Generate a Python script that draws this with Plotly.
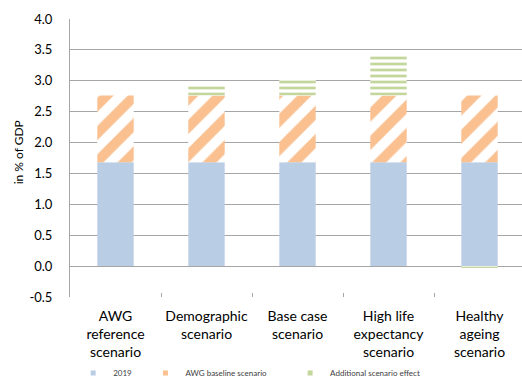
import plotly.graph_objects as go

categories = ["AWG<br>reference<br>scenario", "Demographic<br>scenario", "Base case<br>scenario",
              "High life<br>expectancy<br>scenario", "Healthy<br>ageing<br>scenario"]
base_2019 = [1.68, 1.68, 1.68, 1.68, 1.68]
awg_baseline = [1.08, 1.08, 1.08, 1.08, 1.08]
additional = [0.0, 0.16, 0.26, 0.65, -0.02]
y_ticks = [-0.5, 0.0, 0.5, 1.0, 1.5, 2.0, 2.5, 3.0, 3.5, 4.0]
series_names = ["2019", "AWG baseline scenario", "Additional scenario effect"]
series_colors = ["#B9CDE5", "#FAC090", "#C3D69B"]
y_title = "in % of GDP"

FONT = "Lato"
fig = go.Figure()
fig.add_trace(go.Bar(x=categories, y=base_2019, name=series_names[0], width=0.4,
                     marker=dict(color=series_colors[0], line=dict(width=0)), showlegend=False))
fig.add_trace(go.Bar(x=categories, y=awg_baseline, name=series_names[1], width=0.4,
                     marker=dict(color="white", line=dict(width=0),
                                 pattern=dict(shape="/", fgcolor=series_colors[1], bgcolor="white",
                                              fgopacity=1, size=20, solidity=0.5)),
                     showlegend=False))
fig.add_trace(go.Bar(x=categories, y=additional, name=series_names[2], width=0.4,
                     marker=dict(color="white", line=dict(width=0),
                                 pattern=dict(shape="-", fgcolor=series_colors[2], bgcolor="white",
                                              fgopacity=1, size=6, solidity=0.45)),
                     showlegend=False))

# legend entries (small square swatches, as in the original)
legend_ids = ["legend", "legend2", "legend3"]
for nm, col, lg in zip(series_names, series_colors, legend_ids):
    fig.add_trace(go.Scatter(x=[None], y=[None], mode="markers", name=nm,
                             marker=dict(symbol="square", size=5, color=col),
                             legend=lg, showlegend=True))

leg_common = dict(orientation="h", yanchor="middle", xanchor="left",
                  font=dict(family=FONT, size=8, color="#404040"),
                  bgcolor="rgba(0,0,0,0)", itemwidth=30)
fig.update_layout(
    width=522, height=381,
    margin=dict(l=70, r=0, t=19, b=84, autoexpand=False),
    barmode="relative",
    plot_bgcolor="white", paper_bgcolor="white",
    font=dict(family=FONT, color="#000000"),
    legend=dict(x=0.007, y=-0.273, **leg_common),
    legend2=dict(x=0.167, y=-0.273, **leg_common),
    legend3=dict(x=0.487, y=-0.273, **leg_common),
    xaxis=dict(type="category", range=[-0.5, 4.467], tickson="boundaries", ticks="inside",
               ticklen=4, tickcolor="#A6A6A6", showgrid=False, showline=False, automargin=False,
               ticklabelstandoff=9, tickangle=0,
               tickfont=dict(family=FONT, size=14, color="#000000")),
    yaxis=dict(range=[-0.5, 4.0], tickvals=y_ticks, ticktext=[f"{v:.1f}" for v in y_ticks],
               showgrid=True, gridcolor="#A6A6A6", gridwidth=1, zeroline=False,
               showline=True, linecolor="#A6A6A6", linewidth=1, ticks="", automargin=False,
               ticklabelstandoff=14,
               tickfont=dict(family=FONT, size=13, color="#000000")),
)
fig.add_annotation(text=y_title, xref="paper", yref="paper", x=-0.113, y=0.52,
                   textangle=-90, showarrow=False, xanchor="center", yanchor="middle",
                   font=dict(family=FONT, size=12, color="#000000"))
fig.write_html("out.html", config={"displayModeBar": False},
               post_script="document.body.style.margin='0';document.body.style.overflow='hidden';")
